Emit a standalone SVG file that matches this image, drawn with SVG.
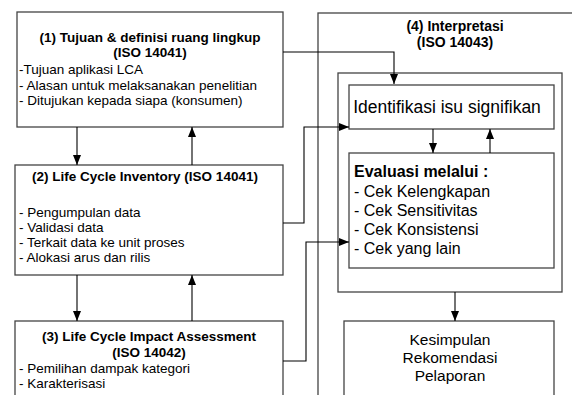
<svg xmlns="http://www.w3.org/2000/svg" width="572" height="395" viewBox="0 0 572 395">
<style>
.box{fill:#fff;stroke:#444;stroke-width:1.3}
.con{fill:none;stroke:#000;stroke-width:1.1}
text{font-family:"Liberation Sans",Arial,sans-serif;fill:#000}
.t{font-size:13.5px;font-weight:bold;text-anchor:middle}
.l{font-size:13.5px}
.r{font-size:16px}
.rb{font-size:16px;font-weight:bold}
.c{font-size:15.5px;text-anchor:middle}
</style>
<defs>
<marker id="ah" markerUnits="userSpaceOnUse" markerWidth="10" markerHeight="10" viewBox="0 0 10 10" refX="10" refY="5" orient="auto">
<path d="M0,1 L10,5 L0,9 Z" fill="#000"/>
</marker>
</defs>
<rect width="572" height="395" fill="#fff"/>
<g id="n1">
<rect class="box" x="17" y="12" width="266" height="115"/>
<text class="t" x="150" y="42">(1) Tujuan &amp; definisi ruang lingkup</text>
<text class="t" x="150" y="57">(ISO 14041)</text>
<text class="l" x="19" y="74">-Tujuan aplikasi LCA</text>
<text class="l" x="19" y="90">- Alasan untuk melaksanakan penelitian</text>
<text class="l" x="19" y="105">- Ditujukan kepada siapa (konsumen)</text>
</g>
<g id="n2">
<rect class="box" x="15" y="165" width="268" height="110"/>
<text class="t" x="145" y="181">(2) Life Cycle Inventory (ISO 14041)</text>
<text class="l" x="19" y="217">- Pengumpulan data</text>
<text class="l" x="19" y="232">- Validasi data</text>
<text class="l" x="19" y="247">- Terkait data ke unit proses</text>
<text class="l" x="19" y="262">- Alokasi arus dan rilis</text>
</g>
<g id="n3">
<rect class="box" x="15" y="321" width="268" height="90"/>
<text class="t" x="149" y="341">(3) Life Cycle Impact Assessment</text>
<text class="t" x="149" y="357">(ISO 14042)</text>
<text class="l" x="19" y="373">- Pemilihan dampak kategori</text>
<text class="l" x="19" y="388">- Karakterisasi</text>
</g>
<g id="n4">
<rect class="box" x="318" y="13" width="270" height="400"/>
<text class="t" x="455" y="31" style="font-size:14px">(4) Interpretasi</text>
<text class="t" x="455" y="47" style="font-size:14px">(ISO 14043)</text>
</g>
<g id="n4inner">
<rect class="box" x="338" y="73" width="224" height="219"/>
</g>
<g id="n5">
<rect class="box" x="349" y="85" width="205" height="44"/>
<text x="447" y="113" style="font-size:17.5px;text-anchor:middle">Identifikasi isu signifikan</text>
</g>
<g id="n6">
<rect class="box" x="349" y="153" width="205" height="115"/>
<text class="rb" x="354" y="177">Evaluasi melalui :</text>
<text class="r" x="354" y="197">- Cek Kelengkapan</text>
<text class="r" x="354" y="216">- Cek Sensitivitas</text>
<text class="r" x="354" y="235">- Cek Konsistensi</text>
<text class="r" x="354" y="254">- Cek yang lain</text>
</g>
<g id="n7">
<rect class="box" x="344" y="321" width="210" height="90"/>
<text class="c" x="450" y="345">Kesimpulan</text>
<text class="c" x="450" y="363">Rekomendasi</text>
<text class="c" x="450" y="381">Pelaporan</text>
</g>
<g id="connectors">
<path class="con" d="M283,52 H394 V84" marker-end="url(#ah)"/>
<path class="con" d="M283,223 H304 V127 H349" marker-end="url(#ah)"/>
<path class="con" d="M283,361 H306 V242 H349" marker-end="url(#ah)"/>
<path class="con" d="M77,127 V165" marker-end="url(#ah)"/>
<path class="con" d="M192,165 V127" marker-end="url(#ah)"/>
<path class="con" d="M77,275 V321" marker-end="url(#ah)"/>
<path class="con" d="M192,321 V275" marker-end="url(#ah)"/>
<path class="con" d="M433,129 V153" marker-end="url(#ah)"/>
<path class="con" d="M490,153 V129" marker-end="url(#ah)"/>
<path class="con" d="M455,292 V321" marker-end="url(#ah)"/>
</g>
</svg>
